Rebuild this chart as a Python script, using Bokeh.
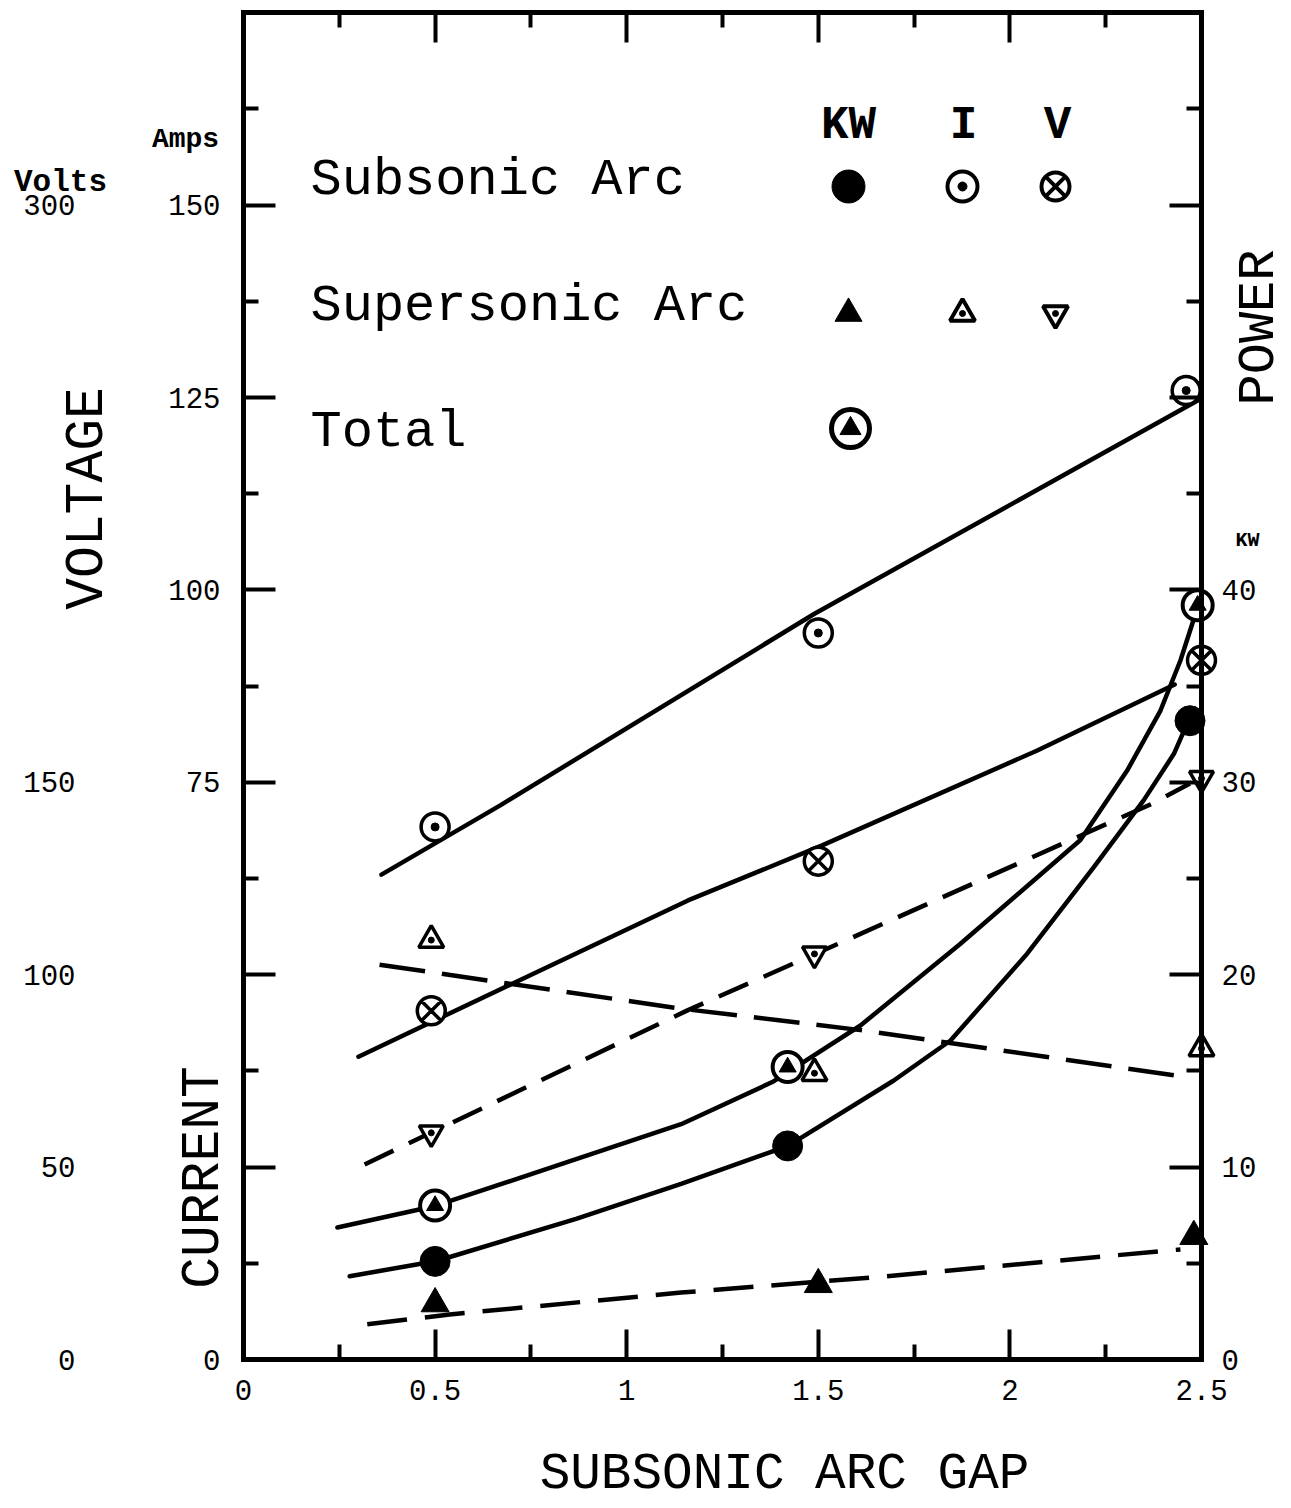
import math
from bokeh.plotting import figure
from bokeh.models import Range1d, LinearAxis, FixedTicker, Label
from bokeh.embed import file_html
from bokeh.resources import INLINE

# ---------------- data ----------------
# measured points: x = subsonic arc gap
sub_kw_x = [0.5, 1.42, 2.47]
sub_kw = [5.1, 11.1, 33.2]            # KW, subsonic arc power
tot_kw_x = [0.5, 1.42, 2.49]
tot_kw = [8.0, 15.2, 39.2]            # KW, total power
sup_kw_x = [0.5, 1.5, 2.48]
sup_kw = [2.9, 3.9, 6.4]              # KW, supersonic arc power
sub_i_x = [0.5, 1.5, 2.46]
sub_i = [69.2, 94.4, 125.9]           # Amps, subsonic arc current
sub_v_x = [0.49, 1.5, 2.5]
sub_v = [90.6, 129.5, 181.7]          # Volts, subsonic arc voltage
sup_i_x = [0.49, 1.49, 2.5]
sup_i = [54.5, 37.2, 40.4]            # Amps, supersonic arc current
sup_v_x = [0.49, 1.49, 2.5]
sup_v = [58.9, 105.4, 151.0]          # Volts, supersonic arc voltage

# hand-drawn fitted curves
sub_i_fit_x = [0.36, 0.67, 1.49, 2.49]
sub_i_fit = [63.0, 72.0, 96.9, 124.6]
sub_v_fit_x = [0.30, 0.70, 1.16, 1.51, 2.07, 2.43]
sub_v_fit = [78.7, 97.6, 119.3, 133.6, 158.2, 175.4]
sup_i_fit_x = [0.355, 1.14, 1.61, 2.445]
sup_i_fit = [51.3, 45.6, 42.8, 36.8]
sup_v_fit_x = [0.316, 1.16, 1.61, 2.37, 2.47]
sup_v_fit = [50.7, 90.8, 110.6, 144.4, 149.7]
tot_kw_fit_x = [0.245, 0.50, 0.868, 1.142, 1.38, 1.61, 1.871, 2.062, 2.184, 2.306, 2.393, 2.445, 2.485]
tot_kw_fit = [6.86, 7.98, 10.41, 12.23, 14.42, 17.36, 21.61, 24.90, 27.0, 30.61, 33.73, 36.33, 38.8]
sub_kw_fit_x = [0.277, 0.504, 0.868, 1.142, 1.421, 1.697, 1.845, 2.045, 2.219, 2.349, 2.428, 2.466]
sub_kw_fit = [4.33, 5.12, 7.31, 9.13, 11.10, 14.50, 16.58, 21.09, 25.59, 29.06, 31.48, 33.21]
sup_kw_fit_x = [0.323, 0.538, 1.142, 1.662, 2.445]
sup_kw_fit = [1.83, 2.34, 3.48, 4.30, 5.72]

# axes
x_ticks = [0, 0.5, 1, 1.5, 2, 2.5]
x_minor = [0.25, 0.75, 1.25, 1.75, 2.25]
x_halves = [0.5, 1, 1.5, 2]
x_labels = {0: "0", 0.5: "0.5", 1: "1", 1.5: "1.5", 2: "2", 2.5: "2.5"}
amp_label_ticks = [0, 75, 100, 125, 150]
amp_long_unlabeled = [25, 50]
amp_minor = [12.5, 37.5, 62.5, 87.5, 112.5, 137.5, 162.5]
volt_ticks = [0, 50, 100, 150, 300]
kw_label_ticks = [0, 10, 20, 30, 40]
kw_long_unlabeled = [50, 60]
kw_minor = [5, 15, 25, 35, 45, 55, 65]
AMP_MAX, KW_MAX, X_MAX = 175, 70, 2.5

# legend key
legend_rows = ["Subsonic Arc", "Supersonic Arc", "Total"]
legend_cols = ["KW", "I", "V"]

# ---------------- page geometry (pixels) ----------------
W, H = 1289, 1506
X0, SX = 243.0, 383.2      # page x of gap 0, px per unit gap
Y0, SY = 1359.0, 7.696     # page y of 0 A, px per amp


def px2x(px):
    return (px - X0) / SX


def py2a(py):
    return (Y0 - py) / SY


MONO = "Liberation Mono"
TICK_FONT = "29px"
p = figure(x_range=Range1d(px2x(0), px2x(W)), y_range=Range1d(py2a(H), py2a(0)),
           frame_width=W, frame_height=H,
           min_border_left=0, min_border_right=0, min_border_top=0, min_border_bottom=0,
           x_axis_type=None, y_axis_type=None,
           toolbar_location=None, output_backend="svg")
p.extra_y_ranges = {"volts": Range1d(2 * py2a(H), 2 * py2a(0)),
                    "kw": Range1d(0.4 * py2a(H), 0.4 * py2a(0))}
p.outline_line_color = None
p.background_fill_color = "white"
p.border_fill_color = "white"


def make_axis(side, fixed, ticks, minor, bounds=None, range_name=None, line=True,
              tick_in=32, minor_in=15, standoff=10, overrides=None):
    kw = {}
    if range_name is not None:
        kw["y_range_name"] = range_name
    if bounds is not None:
        kw["bounds"] = bounds
    ax = LinearAxis(ticker=FixedTicker(ticks=ticks, minor_ticks=minor), fixed_location=fixed, **kw)
    if overrides:
        ax.major_label_overrides = overrides
    ax.axis_line_width = 5
    ax.axis_line_color = "black" if line else None
    ax.axis_line_cap = "square"
    ax.major_tick_in = tick_in
    ax.major_tick_out = 0
    ax.minor_tick_in = minor_in
    ax.minor_tick_out = 0
    ax.major_tick_line_width = 4
    ax.minor_tick_line_width = 4
    ax.major_tick_line_color = "black" if tick_in > 0 else None
    ax.minor_tick_line_color = "black" if minor_in > 0 else None
    ax.major_label_text_font = MONO
    ax.major_label_text_font_size = TICK_FONT
    ax.major_label_text_color = "black"
    ax.major_label_standoff = standoff
    p.add_layout(ax, side)
    return ax


# left spine: current (Amps)
make_axis("left", 0, amp_label_ticks, amp_minor, bounds=(0, AMP_MAX), standoff=23)
make_axis("left", 0, [], amp_long_unlabeled, line=False, tick_in=0, minor_in=32)
# voltage scale labels (Volts) further left
make_axis("left", 0, volt_ticks, [], range_name="volts", line=False, tick_in=0, minor_in=0,
          standoff=168)
# right spine: power (KW)
make_axis("right", X_MAX, kw_label_ticks, kw_minor, bounds=(0, KW_MAX), range_name="kw",
          standoff=20)
make_axis("right", X_MAX, [], kw_long_unlabeled, range_name="kw", line=False, tick_in=0,
          minor_in=32)
# bottom: gap
make_axis("below", 0, x_ticks, x_minor, bounds=(0, X_MAX), tick_in=30, minor_in=15,
          standoff=20, overrides=x_labels)
# top frame line with ticks only
make_axis("above", AMP_MAX, [], x_minor, bounds=(0, X_MAX), tick_in=0, minor_in=15)
make_axis("above", AMP_MAX, [], x_halves, line=False, tick_in=0, minor_in=30)

# ---------------- curves ----------------
LW = 4.5
p.line(sub_i_fit_x, sub_i_fit, line_width=LW, color="black", line_cap="round")
p.line(sub_v_fit_x, sub_v_fit, line_width=LW, color="black", line_cap="round", y_range_name="volts")
p.line(sup_i_fit_x, sup_i_fit, line_width=LW, color="black", line_dash="46 17")
p.line(sup_v_fit_x, sup_v_fit, line_width=LW, color="black", line_dash="32 17", y_range_name="volts")
p.line(tot_kw_fit_x, tot_kw_fit, line_width=LW, color="black", line_cap="round", y_range_name="kw")
p.line(sub_kw_fit_x, sub_kw_fit, line_width=LW, color="black", line_cap="round", y_range_name="kw")
p.line(sup_kw_fit_x, sup_kw_fit, line_width=LW, color="black", line_dash="40 18", y_range_name="kw")

# ---------------- markers ----------------
MLW = 3.5
# current (Amps)
p.scatter(sub_i_x, sub_i, marker="circle", size=28, fill_color="white", line_color="black", line_width=MLW)
p.scatter(sub_i_x, sub_i, marker="circle", size=8, fill_color="black", line_color="black")
p.scatter(sup_i_x, sup_i, marker="triangle", size=25, fill_color="white", line_color="black", line_width=MLW)
p.scatter(sup_i_x, sup_i, marker="circle", size=6, fill_color="black", line_color="black")
# voltage (Volts)
p.scatter(sub_v_x, sub_v, marker="circle_x", size=28, fill_color="white", line_color="black",
          line_width=MLW, y_range_name="volts")
p.scatter(sup_v_x, sup_v, marker="inverted_triangle", size=24, fill_color="white", line_color="black",
          line_width=MLW, y_range_name="volts")
p.scatter(sup_v_x, sup_v, marker="circle", size=6, fill_color="black", line_color="black",
          y_range_name="volts")
# power (KW)
p.scatter(sub_kw_x, sub_kw, marker="circle", size=30, fill_color="black", line_color="black",
          y_range_name="kw")
p.scatter(sup_kw_x, sup_kw, marker="triangle", size=28, fill_color="black", line_color="black",
          y_range_name="kw")
p.scatter(tot_kw_x, tot_kw, marker="circle", size=30, fill_color="white", line_color="black",
          line_width=4, y_range_name="kw")
p.scatter(tot_kw_x, tot_kw, marker="triangle", size=17, fill_color="black", line_color="black",
          y_range_name="kw")

# ---------------- legend key ----------------
kx = [px2x(848), px2x(962), px2x(1055)]
ky = [py2a(186), py2a(313), py2a(428)]
p.scatter([kx[0]], [ky[0]], marker="circle", size=33, fill_color="black", line_color="black")
p.scatter([kx[1]], [ky[0]], marker="circle", size=30, fill_color="white", line_color="black", line_width=4)
p.scatter([kx[1]], [ky[0]], marker="circle", size=9, fill_color="black", line_color="black")
p.scatter([kx[2]], [ky[0]], marker="circle_x", size=28, fill_color="white", line_color="black", line_width=4)
p.scatter([kx[0]], [ky[1]], marker="triangle", size=27, fill_color="black", line_color="black")
p.scatter([kx[1]], [ky[1]], marker="triangle", size=25, fill_color="white", line_color="black", line_width=4)
p.scatter([kx[1]], [ky[1]], marker="circle", size=6, fill_color="black", line_color="black")
p.scatter([kx[2]], [ky[1]], marker="inverted_triangle", size=25, fill_color="white", line_color="black", line_width=4)
p.scatter([kx[2]], [ky[1]], marker="circle", size=6, fill_color="black", line_color="black")
p.scatter([px2x(850)], [ky[2]], marker="circle", size=38, fill_color="white", line_color="black", line_width=5)
p.scatter([px2x(850)], [ky[2]], marker="triangle", size=21, fill_color="black", line_color="black")


def lab(px, py, text, size, angle=0.0, bold=False, align="center"):
    p.add_layout(Label(x=px2x(px), y=py2a(py), text=text, text_font=MONO, text_font_size=size,
                       text_font_style="bold" if bold else "normal", angle=angle,
                       text_align=align, text_baseline="middle", text_color="black"))


for name, yc in zip(legend_rows, [180, 306, 432]):
    lab(310, yc, name, "52px", align="left")
for name, xc in zip(legend_cols, [848, 963, 1057]):
    lab(xc, 125, name, "46px", bold=True)

# ---------------- axis titles ----------------
lab(60, 182, "Volts", "31px", bold=True)
lab(185, 139, "Amps", "28px", bold=True)
lab(87, 498, "VOLTAGE", "53px", angle=math.pi / 2)
lab(203, 1177, "CURRENT", "53px", angle=math.pi / 2)
lab(1259, 327, "POWER", "52px", angle=math.pi / 2)
lab(1247, 540, "KW", "20px", bold=True)
lab(784, 1474, "SUBSONIC ARC GAP", "51px")

open("out.html", "w").write(file_html(p, INLINE))
